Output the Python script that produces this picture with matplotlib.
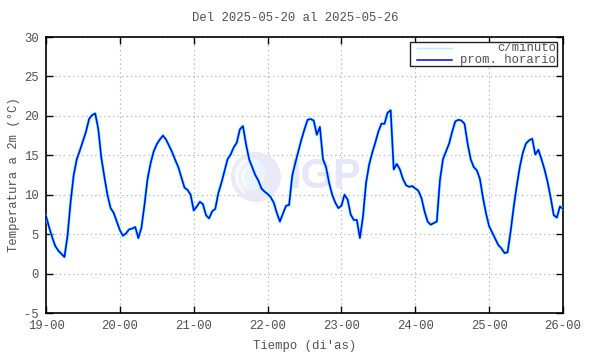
import numpy as np
import matplotlib
matplotlib.use("Agg")
import matplotlib.pyplot as plt
from matplotlib.patches import Ellipse, Rectangle, Arc, Wedge
from matplotlib.lines import Line2D

# ---- data (hourly averages) ----
day_labels = ["19-00", "20-00", "21-00", "22-00", "23-00", "24-00", "25-00", "26-00"]
y_ticks = [-5, 0, 5, 10, 15, 20, 25, 30]

day19 = [7.3, 5.9, 4.6, 3.5, 2.9, 2.5, 2.1, 4.8, 9.1, 12.5, 14.5, 15.6,
         16.8, 18.0, 19.6, 20.1, 20.3, 18.3, 14.6, 12.2, 9.9, 8.3, 7.7, 6.6]
day20 = [5.5, 4.8, 5.1, 5.6, 5.7, 5.9, 4.5, 5.8, 8.7, 12.0, 14.0, 15.5,
         16.4, 17.0, 17.5, 17.0, 16.2, 15.4, 14.4, 13.5, 12.2, 10.9, 10.6, 10.0]
day21 = [8.0, 8.5, 9.1, 8.8, 7.4, 7.0, 7.9, 8.2, 10.2, 11.5, 13.0, 14.5,
         15.1, 16.0, 16.6, 18.3, 18.7, 16.4, 14.5, 13.5, 12.5, 11.8, 10.8, 10.4]
day22 = [10.1, 9.7, 9.0, 7.7, 6.6, 7.6, 8.6, 8.7, 12.4, 14.0, 15.5, 17.0,
         18.3, 19.5, 19.6, 19.4, 17.6, 18.6, 14.5, 13.5, 11.5, 10.0, 9.0, 8.3]
day23 = [8.6, 10.0, 9.4, 7.5, 6.8, 6.8, 4.5, 7.2, 11.5, 13.8, 15.3, 16.6,
         18.0, 19.0, 19.0, 20.4, 20.7, 13.2, 13.9, 13.2, 12.0, 11.2, 11.0, 11.1]
day24 = [10.8, 10.5, 9.6, 7.9, 6.6, 6.2, 6.4, 6.6, 11.8, 14.5, 15.5, 16.5,
         18.0, 19.3, 19.5, 19.4, 19.0, 16.5, 14.5, 13.5, 13.1, 12.0, 9.6, 7.6]
day25 = [6.0, 5.2, 4.4, 3.6, 3.2, 2.6, 2.7, 5.4, 8.5, 11.2, 13.6, 15.4,
         16.5, 16.9, 17.1, 15.1, 15.7, 14.5, 13.2, 11.6, 9.6, 7.4, 7.1, 8.5]
day26_start = [8.2]

hourly = np.array(day19 + day20 + day21 + day22 + day23 + day24 + day25 + day26_start)
hours = np.arange(len(hourly))

# ---- figure ----
DPI = 100
fig = plt.figure(figsize=(5.9, 3.54), dpi=DPI)
W, H = 590, 354
L, R, T, B = 46, 563, 37, 313
ax = fig.add_axes([L / W, 1 - B / H, (R - L) / W, (B - T) / H])

mono = "Liberation Mono"
tcol = "#505050"
fs = 8.8

# watermark logo (light, behind data)
cx, cy = 0.406, 0.493
ax.add_patch(Ellipse((cx, cy), 0.0967, 0.181, transform=ax.transAxes,
                     facecolor="#E9E9F7", edgecolor="none", zorder=1))
ax.add_patch(Ellipse((cx - 0.012, cy + 0.01), 0.06, 0.12, transform=ax.transAxes,
                     facecolor="#EDF3FB", edgecolor="none", zorder=1.05))
for (w, h, t1, t2) in [(0.075, 0.14, 100, 250), (0.05, 0.09, 110, 240), (0.11, 0.2, 300, 40)]:
    ax.add_patch(Arc((cx, cy), w, h, theta1=t1, theta2=t2, transform=ax.transAxes,
                     color="white", lw=1.2, zorder=1.1))
ax.text(0.470, 0.493, "IGP", transform=ax.transAxes, fontsize=30, fontweight="bold",
        family="Liberation Sans", color="#E6E6F6", ha="left", va="center", zorder=1)

# series
ax.plot(hours, hourly, color="#3FF5F5", lw=2.0, zorder=3, solid_joinstyle="round")
ax.plot(hours, hourly, color="#0000F8", lw=1.1, zorder=4)

ax.set_xlim(0, 168)
ax.set_ylim(-5, 30)
ax.set_xticks(np.arange(0, 169, 24))
ax.set_xticklabels(day_labels)
ax.set_yticks(y_ticks)
ax.set_yticklabels([str(v) for v in y_ticks])

ax.grid(True, color="#A8A8A8", lw=0.8, linestyle=(0, (1, 3)), zorder=0)
ax.set_axisbelow(True)
for s in ax.spines.values():
    s.set_linewidth(1.2)
    s.set_color("black")
ax.tick_params(direction="in", length=5, width=1, top=True, right=True,
               labelsize=fs, colors="black", labelcolor=tcol, pad=5)
for lab in ax.get_xticklabels() + ax.get_yticklabels():
    lab.set_family(mono)

# legend (gnuplot style)
ax.add_patch(Rectangle((0.704, 0.895), 0.284, 0.088, transform=ax.transAxes,
                       facecolor="white", edgecolor="#202020", lw=1.0, zorder=5))
ax.add_line(Line2D([0.718, 0.785], [0.961, 0.961], transform=ax.transAxes,
                   color="#A8F8F8", lw=1.0, zorder=6))
ax.add_line(Line2D([0.718, 0.785], [0.916, 0.916], transform=ax.transAxes,
                   color="#0000F8", lw=1.1, zorder=6))
ax.text(0.986, 0.961, "c/minuto", transform=ax.transAxes, ha="right", va="center",
        family=mono, fontsize=fs, color=tcol, zorder=6)
ax.text(0.986, 0.916, "prom. horario", transform=ax.transAxes, ha="right", va="center",
        family=mono, fontsize=fs, color=tcol, zorder=6)

fig.text(0.5, 1 - 18 / H, "Del 2025-05-20 al 2025-05-26", ha="center", va="center",
         family=mono, fontsize=fs, color=tcol)
fig.text(305 / W, 1 - 346 / H, "Tiempo (di'as)", ha="center", va="center",
         family=mono, fontsize=fs, color=tcol)
fig.text(14 / W, 1 - 175 / H, "Temperatura a 2m (°C)", ha="center", va="center",
         rotation=90, family=mono, fontsize=fs, color=tcol)

fig.savefig("out.png", dpi=DPI)
